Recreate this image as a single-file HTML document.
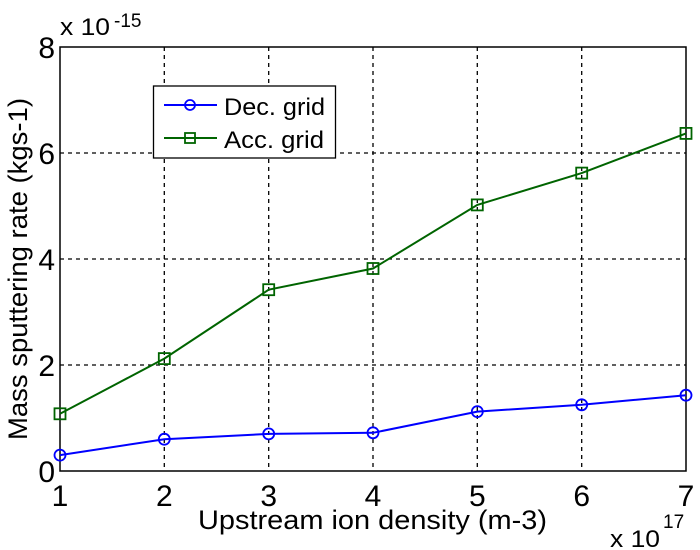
<!DOCTYPE html>
<html><head><style>body{margin:0;background:#fff}svg{display:block}text{font-family:"Liberation Sans",Arial,sans-serif;fill:#000}</style></head><body>
<svg width="700" height="550" xmlns="http://www.w3.org/2000/svg">
<rect width="700" height="550" fill="#fff"/>
<g stroke="#000" stroke-width="1.3" stroke-dasharray="4,4">
<line x1="164.3" y1="47" x2="164.3" y2="471"/><line x1="268.7" y1="47" x2="268.7" y2="471"/><line x1="373" y1="47" x2="373" y2="471"/><line x1="477.3" y1="47" x2="477.3" y2="471"/><line x1="581.7" y1="47" x2="581.7" y2="471"/>
<line x1="60" y1="153" x2="686" y2="153"/><line x1="60" y1="259" x2="686" y2="259"/><line x1="60" y1="365" x2="686" y2="365"/>
</g>
<rect x="60" y="47" width="626" height="424" fill="none" stroke="#000" stroke-width="1.5"/>
<polyline fill="none" stroke="#006400" stroke-width="2" points="60,413.8 164.3,358.6 268.7,289.7 373,268.5 477.3,204.9 581.7,173.1 686,133.4"/>
<g fill="none" stroke="#006400" stroke-width="1.8">
<rect x="54.5" y="408.3" width="11" height="11"/><rect x="158.8" y="353.1" width="11" height="11"/><rect x="263.2" y="284.2" width="11" height="11"/><rect x="367.5" y="263" width="11" height="11"/><rect x="471.8" y="199.4" width="11" height="11"/><rect x="576.2" y="167.6" width="11" height="11"/><rect x="680.5" y="127.9" width="11" height="11"/>
</g>
<polyline fill="none" stroke="#0000ff" stroke-width="2" points="60,455.1 164.3,439.2 268.7,433.9 373,432.8 477.3,411.6 581.7,404.8 686,395.2"/>
<g fill="none" stroke="#0000ff" stroke-width="1.8">
<circle cx="60" cy="455.1" r="5.5"/><circle cx="164.3" cy="439.2" r="5.5"/><circle cx="268.7" cy="433.9" r="5.5"/><circle cx="373" cy="432.8" r="5.5"/><circle cx="477.3" cy="411.6" r="5.5"/><circle cx="581.7" cy="404.8" r="5.5"/><circle cx="686" cy="395.2" r="5.5"/>
</g>
<rect x="153.5" y="86" width="182" height="72" fill="#fff" stroke="#000" stroke-width="1.3"/>
<line x1="164" y1="105" x2="217" y2="105" stroke="#0000ff" stroke-width="2"/><circle cx="190" cy="105" r="5" fill="none" stroke="#0000ff" stroke-width="1.8"/>
<line x1="164" y1="138" x2="217" y2="138" stroke="#006400" stroke-width="2"/><rect x="185" y="133" width="10" height="10" fill="none" stroke="#006400" stroke-width="1.8"/>
<text x="224" y="115" font-size="24" textLength="101" lengthAdjust="spacingAndGlyphs">Dec. grid</text>
<text x="224" y="148" font-size="24" textLength="100" lengthAdjust="spacingAndGlyphs">Acc. grid</text>
<g font-size="30" text-anchor="end"><text x="55" y="58">8</text><text x="55" y="164">6</text><text x="55" y="270">4</text><text x="55" y="376">2</text><text x="55" y="482">0</text></g>
<g font-size="30" text-anchor="middle"><text x="60" y="506">1</text><text x="164.3" y="506">2</text><text x="268.7" y="506">3</text><text x="373" y="506">4</text><text x="477.3" y="506">5</text><text x="581.7" y="506">6</text><text x="686" y="506">7</text></g>
<text x="198" y="529" font-size="27" textLength="349" lengthAdjust="spacingAndGlyphs">Upstream ion density (m-3)</text>
<text x="610" y="547" font-size="24" textLength="50" lengthAdjust="spacingAndGlyphs">x 10</text><text x="663" y="528" font-size="19">17</text>
<text x="60" y="35" font-size="24" textLength="50" lengthAdjust="spacingAndGlyphs">x 10</text><text x="114" y="27" font-size="19">-15</text>
<text transform="translate(27,440) rotate(-90)" font-size="27" textLength="342" lengthAdjust="spacingAndGlyphs">Mass sputtering rate (kgs-1)</text>
</svg>
</body></html>
